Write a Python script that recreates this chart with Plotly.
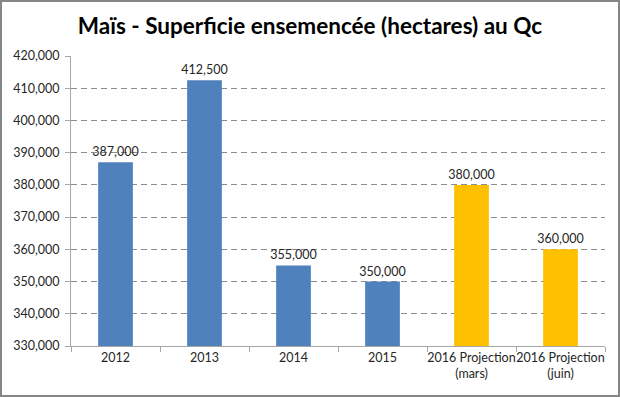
import plotly.graph_objects as go

categories = ["2012", "2013", "2014", "2015", "2016 Projection<br>(mars)", "2016 Projection<br>(juin)"]
values = [387000, 412500, 355000, 350000, 380000, 360000]
colors = ["#4F81BD", "#4F81BD", "#4F81BD", "#4F81BD", "#FFC000", "#FFC000"]
title = "Maïs - Superficie ensemencée (hectares) au Qc"

W, H = 620, 397
ML, MR, MT, MB = 71, 15, 56, 51
pw, ph = W - ML - MR, H - MT - MB
FONT = "Lato, Carlito, sans-serif"

fig = go.Figure(go.Bar(
    x=categories, y=values,
    marker=dict(color=colors, line=dict(width=0)),
    width=0.39,
    text=[f"{v:,}" for v in values],
    textposition="outside",
    constraintext="none",
    textfont=dict(family=FONT, size=12.5, color="#262626"),
    cliponaxis=False,
))

fig.update_layout(
    width=W, height=H,
    margin=dict(l=ML, r=MR, t=MT, b=MB, autoexpand=False),
    paper_bgcolor="white", plot_bgcolor="white",
    showlegend=False,
    title=dict(text="<b>" + title + "</b>", x=0.5, xanchor="center", y=1 - 26 / H, yanchor="middle",
               font=dict(family=FONT, size=22.5, color="black")),
    font=dict(family=FONT, size=12, color="#262626"),
    bargap=0.6,
    xaxis=dict(
        showline=True, linecolor="#A6A6A6", linewidth=1,
        ticks="outside", tickson="boundaries", ticklen=5, tickcolor="#A6A6A6",
        tickfont=dict(size=12.5, color="#262626"), tickangle=0, automargin=False,
        showgrid=False,
    ),
    yaxis=dict(
        range=[330000, 420000], dtick=10000, tickformat=",d",
        showline=True, linecolor="#A6A6A6", linewidth=1,
        ticks="outside", ticklen=5, tickcolor="#A6A6A6",
        tickfont=dict(size=12.5, color="#262626"), automargin=False,
        ticklabelstandoff=3,
        showgrid=True, gridcolor="#8C8C8C", gridwidth=1, griddash="6px,4px",
        zeroline=False,
    ),
    shapes=[dict(
        type="rect", xref="paper", yref="paper",
        x0=-(ML - 1) / pw, x1=1 + (MR - 1) / pw,
        y0=-(MB - 1) / ph, y1=1 + (MT - 1) / ph,
        line=dict(color="#868686", width=2), fillcolor="rgba(0,0,0,0)",
        layer="above",
    )],
)

fig.write_html("out.html", config={"displayModeBar": False},
               post_script="document.body.style.margin='0';document.body.style.overflow='hidden';")
